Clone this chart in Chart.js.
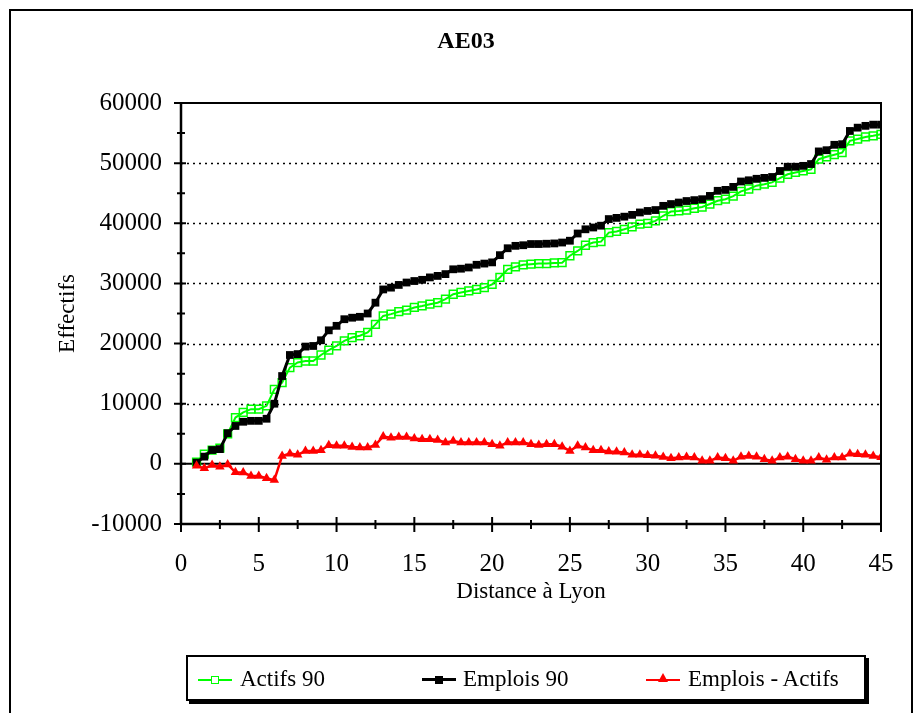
<!DOCTYPE html>
<html>
<head>
<meta charset="utf-8">
<script src="https://cdn.jsdelivr.net/npm/chart.js@4.4.1/dist/chart.umd.min.js"></script>
<style>
  body { margin: 0; background: #fff; }
  #wrap { position: relative; width: 916px; height: 713px; overflow: hidden; font-family: "Liberation Serif", "Times New Roman", serif; }
  #frame { position: absolute; left: 9px; top: 9px; width: 904px; height: 720px; border: 2px solid #000; box-sizing: border-box; }
  #title { position: absolute; left: 366px; width: 200px; top: 26px; text-align: center; font-weight: bold; font-size: 24px; line-height: 28px; }
  #legend { position: absolute; left: 186px; top: 655px; width: 680px; height: 46px; border: 2px solid #000; box-sizing: border-box; box-shadow: 3px 3px 0 #000; background: #fff; }
  .item { position: absolute; top: 8px; font-size: 23px; line-height: 28px; }
  .sample { position: absolute; top: 22px; height: 2px; }
  .mark { position: absolute; box-sizing: border-box; }
</style>
</head>
<body>
<div id="wrap">
  <div id="frame"></div>
  <canvas id="chart" width="916" height="713"></canvas>
  <div id="title">AE03</div>
  <div id="legend">
    <div class="sample" style="left:10px;width:34px;background:#00ff00"></div>
    <div class="mark" style="left:23px;top:19px;width:8px;height:8px;border:1.5px solid #00ff00;background:#fff"></div>
    <div class="item" style="left:52px">Actifs 90</div>
    <div class="sample" style="left:234px;width:34px;height:3px;top:21px;background:#000"></div>
    <div class="mark" style="left:247px;top:19px;width:8px;height:8px;background:#000"></div>
    <div class="item" style="left:275px">Emplois 90</div>
    <div class="sample" style="left:458px;width:34px;background:#ff0000"></div>
    <div class="mark" style="left:470px;top:16px;width:0;height:0;border-left:5px solid transparent;border-right:5px solid transparent;border-bottom:9px solid #ff0000"></div>
    <div class="item" style="left:500px">Emplois - Actifs</div>
  </div>
</div>
<script>
// distance à Lyon (km)
const distances = [
  1, 1.5, 2, 2.5, 3, 3.5, 4, 4.5, 5, 5.5, 6, 6.5, 7, 7.5, 8, 8.5, 9, 9.5, 10, 10.5,
  11, 11.5, 12, 12.5, 13, 13.5, 14, 14.5, 15, 15.5, 16, 16.5, 17, 17.5, 18, 18.5, 19, 19.5, 20, 20.5,
  21, 21.5, 22, 22.5, 23, 23.5, 24, 24.5, 25, 25.5, 26, 26.5, 27, 27.5, 28, 28.5, 29, 29.5, 30, 30.5,
  31, 31.5, 32, 32.5, 33, 33.5, 34, 34.5, 35, 35.5, 36, 36.5, 37, 37.5, 38, 38.5, 39, 39.5, 40, 40.5,
  41, 41.5, 42, 42.5, 43, 43.5, 44, 44.5, 45
];

const actifs90 = [
  300, 1600, 2300, 2600, 5000, 7700, 8550, 9100, 9100, 9650, 12400, 13500, 16000, 16850, 17100, 17100, 18100, 18900, 19600, 20450,
  21000, 21300, 21850, 23200, 24600, 24900, 25300, 25550, 26000, 26250, 26550, 26800, 27400, 28200, 28500, 28750, 29000, 29300, 29850, 31000,
  32350, 32750, 33100, 33200, 33300, 33300, 33400, 33450, 34600, 35400, 36350, 36800, 36950, 38450, 38650, 39000, 39400, 39850, 40000, 40400,
  41250, 41950, 42050, 42200, 42500, 42700, 43200, 43750, 44000, 44500, 45300, 45700, 46250, 46500, 46800, 47500, 48150, 48450, 48700, 48950,
  50650, 51050, 51400, 51750, 53700, 54000, 54350, 54550, 54800
];

const emplois90 = [
  200, 1200, 2300, 2450, 5100, 6300, 7000, 7150, 7150, 7500, 10000, 14600, 18100, 18250, 19500, 19600, 20550, 22200, 22950, 24050,
  24300, 24450, 25000, 26800, 29000, 29300, 29750, 30150, 30400, 30600, 31000, 31250, 31550, 32350, 32450, 32650, 33100, 33300, 33500, 34700,
  35850, 36250, 36350, 36550, 36550, 36600, 36650, 36800, 37100, 38300, 39000, 39300, 39600, 40700, 40900, 41100, 41400, 41800, 42050, 42200,
  42900, 43200, 43450, 43700, 43850, 44000, 44550, 45400, 45550, 46050, 46950, 47150, 47400, 47550, 47700, 48700, 49400, 49400, 49550, 49850,
  51950, 52150, 53050, 53150, 55350, 55900, 56200, 56400, 56400
];

const emploisMoinsActifs = [
  -300, -750, -200, -500, -100, -1400, -1450, -2000, -2000, -2400, -2700, 1300, 1700, 1500, 2150, 2150, 2250, 3100, 3000, 3000,
  2800, 2700, 2700, 3150, 4550, 4350, 4450, 4450, 4200, 4100, 4100, 3950, 3550, 3800, 3550, 3550, 3550, 3550, 3250, 3000,
  3550, 3550, 3550, 3250, 3150, 3250, 3250, 2850, 2150, 3000, 2700, 2250, 2250, 2050, 2000, 1900, 1500, 1500, 1450, 1330,
  1150, 950, 1050, 1150, 1050, 500, 500, 1050, 950, 500, 1200, 1300, 1200, 780, 500, 1050, 1200, 780, 500, 500,
  1050, 700, 1050, 1050, 1700, 1600, 1500, 1300, 1100
];

const xTicks = [0, 5, 10, 15, 20, 25, 30, 35, 40, 45];
const yTicks = [-10000, 0, 10000, 20000, 30000, 40000, 50000, 60000];

const toPoints = vals => distances.map((d, i) => ({ x: d, y: vals[i] }));
const serif = '"Liberation Serif", "Times New Roman", serif';

// grille pointillée, axes et graduations façon Excel
const framePlugin = {
  id: 'frame',
  beforeDatasetsDraw(chart) {
    const { ctx, chartArea: a, scales: { x, y } } = chart;
    ctx.save();
    ctx.strokeStyle = '#000';
    ctx.lineWidth = 1.5;
    ctx.setLineDash([2, 4]);
    yTicks.forEach(v => {
      if (v <= 0 || v >= 60000) return;
      const py = Math.round(y.getPixelForValue(v)) + 0.5;
      ctx.beginPath();
      ctx.moveTo(a.left, py);
      ctx.lineTo(a.right, py);
      ctx.stroke();
    });
    ctx.setLineDash([]);
    ctx.lineWidth = 2;
    const y0 = y.getPixelForValue(0);
    ctx.beginPath();
    ctx.moveTo(a.left, y0);
    ctx.lineTo(a.right, y0);
    ctx.stroke();
    ctx.restore();
  },
  afterDatasetsDraw(chart) {
    const { ctx, chartArea: a, scales: { x, y } } = chart;
    ctx.save();
    ctx.strokeStyle = '#000';
    ctx.lineWidth = 2;
    ctx.beginPath();
    ctx.moveTo(a.left, a.top);
    ctx.lineTo(a.right, a.top);
    ctx.lineTo(a.right, a.bottom);
    ctx.stroke();
    ctx.lineWidth = 2.5;
    ctx.beginPath();
    ctx.moveTo(a.left, a.top - 1);
    ctx.lineTo(a.left, a.bottom + 1);
    ctx.moveTo(a.left, a.bottom);
    ctx.lineTo(a.right, a.bottom);
    ctx.stroke();
    ctx.lineWidth = 2;
    ctx.beginPath();
    for (let v = -10000; v <= 60000; v += 5000) {
      const py = y.getPixelForValue(v);
      const major = v % 10000 === 0;
      ctx.moveTo(a.left - (major ? 7 : 4), py);
      ctx.lineTo(a.left + (major ? 5 : 4), py);
    }
    for (let v = 0; v <= 45; v += 2.5) {
      const px = x.getPixelForValue(v);
      const major = v % 5 === 0;
      ctx.moveTo(px, a.bottom - (major ? 7 : 4));
      ctx.lineTo(px, a.bottom + (major ? 8 : 5));
    }
    ctx.stroke();
    ctx.restore();
  }
};

new Chart(document.getElementById('chart'), {
  type: 'line',
  data: {
    datasets: [
      {
        label: 'Actifs 90',
        data: toPoints(actifs90),
        borderColor: '#00ff00',
        borderWidth: 2,
        pointStyle: 'rect',
        pointRadius: 5.5,
        pointBorderWidth: 1.5,
        pointBackgroundColor: 'rgba(255,255,255,0)',
        pointBorderColor: '#00ff00',
        order: 3,
      },
      {
        label: 'Emplois 90',
        data: toPoints(emplois90),
        borderColor: '#000',
        borderWidth: 3,
        pointStyle: 'rect',
        pointRadius: 5.5,
        pointBorderWidth: 0,
        pointBackgroundColor: '#000',
        order: 2,
      },
      {
        label: 'Emplois - Actifs',
        data: toPoints(emploisMoinsActifs),
        borderColor: '#ff0000',
        borderWidth: 2.5,
        pointStyle: 'triangle',
        pointRadius: 5.5,
        pointBorderWidth: 0,
        pointBackgroundColor: '#ff0000',
        order: 1,
      },
    ],
  },
  options: {
    responsive: false,
    animation: false,
    devicePixelRatio: 1,
    layout: { padding: { top: 103, right: 35, left: 0, bottom: 0 } },
    plugins: {
      legend: { display: false },
      tooltip: { enabled: false },
    },
    scales: {
      x: {
        type: 'linear',
        min: 0,
        max: 45,
        afterFit: s => { s.height = 189; },
        afterBuildTicks: s => { s.ticks = xTicks.map(v => ({ value: v })); },
        grid: { display: false },
        border: { display: false },
        ticks: { color: '#000', padding: 17, autoSkip: false, maxRotation: 0, font: { family: serif, size: 25 } },
        title: { display: true, text: 'Distance à Lyon', color: '#000', font: { family: serif, size: 23 }, padding: { top: 0, bottom: 107 } },
      },
      y: {
        min: -10000,
        max: 60000,
        afterFit: s => { s.width = 181; },
        afterBuildTicks: s => { s.ticks = yTicks.map(v => ({ value: v })); },
        grid: { display: false },
        border: { display: false },
        ticks: { color: '#000', padding: 11, callback: v => String(v), font: { family: serif, size: 25 } },
        title: { display: true, text: 'Effectifs', color: '#000', font: { family: serif, size: 23 }, padding: { top: 54, bottom: 0 } },
      },
    },
  },
  plugins: [framePlugin],
});
</script>
</body>
</html>
